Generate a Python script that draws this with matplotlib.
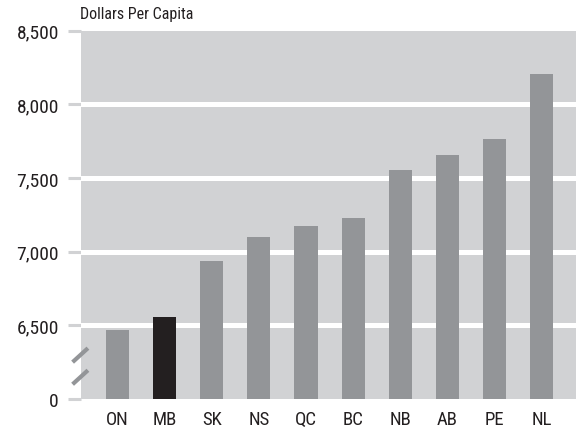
import matplotlib

matplotlib.use("Agg")
import matplotlib.pyplot as plt
from matplotlib import font_manager

provinces = ["ON", "MB", "SK", "NS", "QC", "BC", "NB", "AB", "PE", "NL"]
spending = [6465, 6555, 6937, 7100, 7175, 7229, 7556, 7658, 7767, 8202]
highlight = "MB"
ytick_vals = [6000, 6500, 7000, 7500, 8000, 8500]
ytick_text = ["0", "6,500", "7,000", "7,500", "8,000", "8,500"]

names = {f.name for f in font_manager.fontManager.ttflist}
font = next((f for f in ["Liberation Sans Narrow", "DejaVu Sans Condensed", "Roboto Condensed"]
             if f in names), "Liberation Sans")
plt.rcParams["font.family"] = [font, "DejaVu Sans"]

BG = "#d1d2d4"
BAR = "#939598"
DARK = "#231f20"
TXT = "#231f20"

fig = plt.figure(figsize=(5.76, 4.31), dpi=100)
ax = fig.add_axes([81 / 576, 1 - 400 / 431, 1 - 81 / 576, (400 - 31.5) / 431])
ax.set_facecolor(BG)

x = range(len(provinces))
colors = [DARK if p == highlight else BAR for p in provinces]
ax.bar(x, spending, width=0.49, color=colors, zorder=3)

for g in ytick_vals[1:-1]:
    ax.axhline(g, color="white", lw=3.6, zorder=2)

ax.set_xlim(-0.775, 9.73)
ax.set_ylim(6000, 8500)
ax.set_yticks(ytick_vals)
ax.set_yticklabels(ytick_text)
ax.set_xticks(list(x))
ax.set_xticklabels(provinces)

for s in ax.spines.values():
    s.set_visible(False)
ax.tick_params(axis="y", length=9.5, width=2.2, color=BG, pad=6.5, labelsize=14, labelcolor=TXT)
ax.tick_params(axis="x", length=0, pad=8, labelsize=13.5, labelcolor=TXT)

# axis break marks
for y0 in (0.05, 0.11):
    ax.plot([-0.017, 0.014], [y0 - 0.01, y0 + 0.028], transform=ax.transAxes,
            color=BAR, lw=3, clip_on=False, zorder=4, solid_capstyle="butt")

fig.text(80 / 576, 1 - 19.5 / 431, "Dollars Per Capita", fontsize=11.5, color=TXT,
         ha="left", va="baseline")

fig.savefig("out.png", dpi=100, facecolor="white")
